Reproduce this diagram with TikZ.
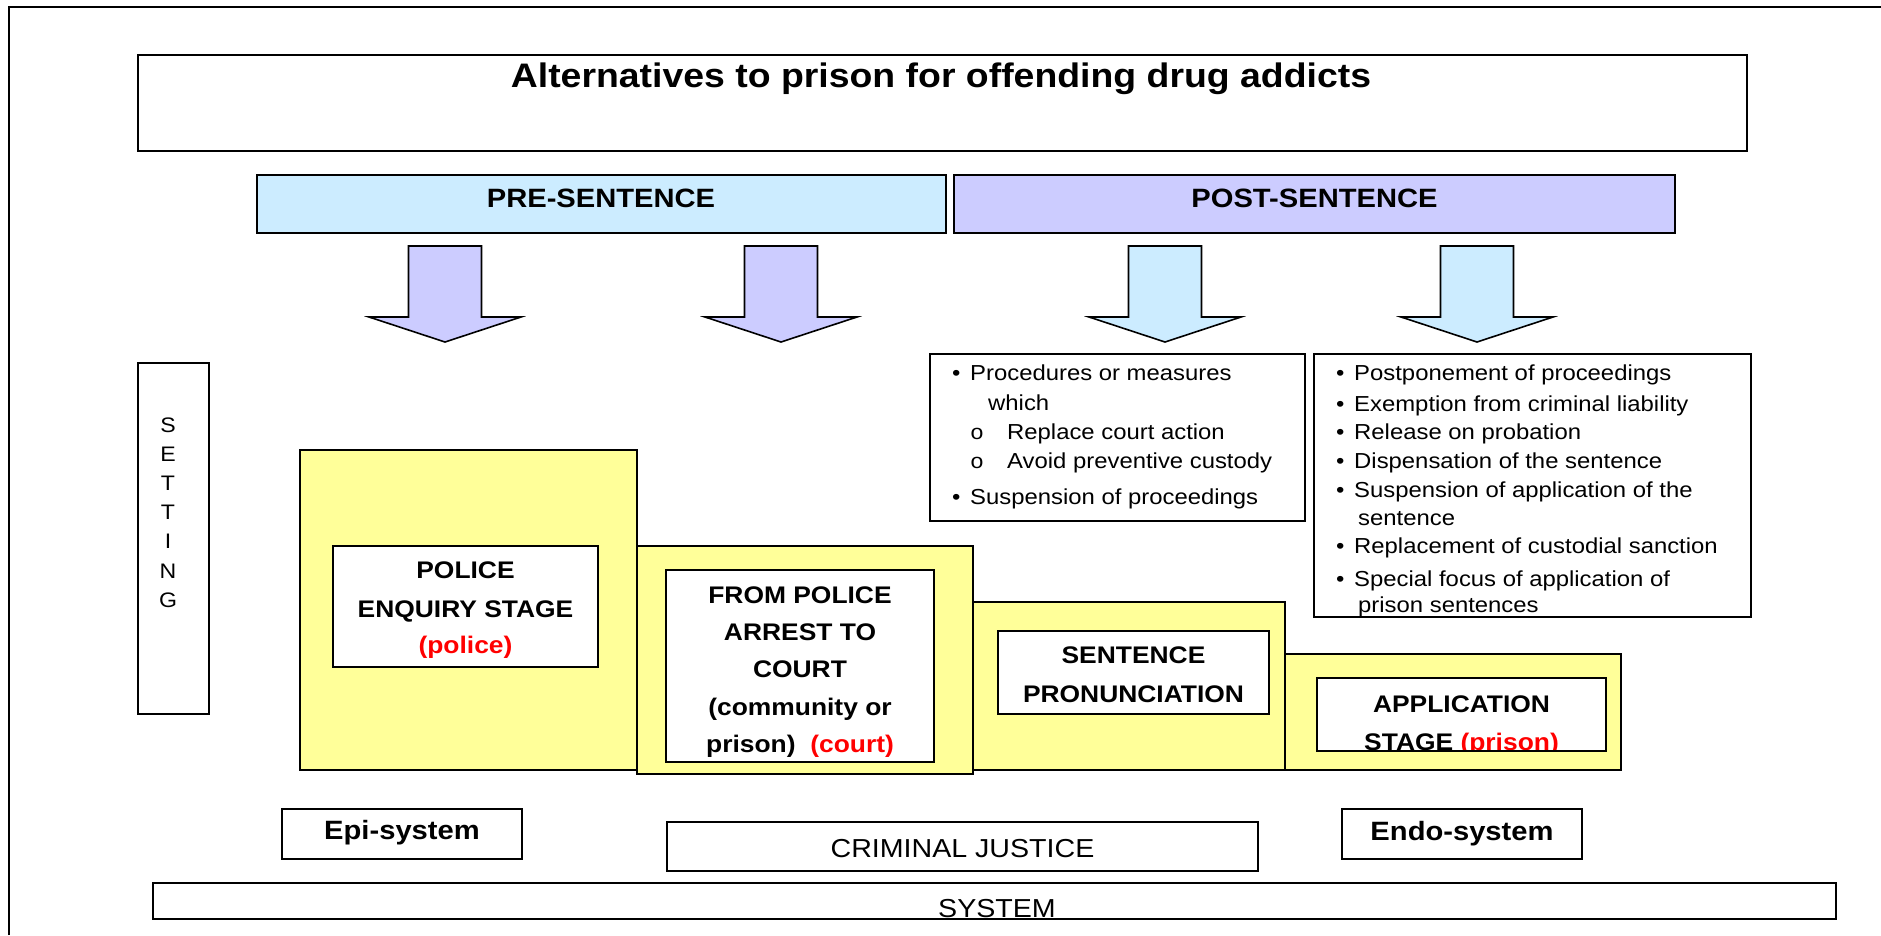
\documentclass[tikz,border=0pt]{standalone}
\usepackage{fontspec}
\setmainfont[FakeStretch=1.1]{Liberation Sans}
\newfontfamily\monofont[FakeStretch=1.1]{Liberation Mono}
\definecolor{preblue}{HTML}{CCECFF}
\definecolor{lav}{HTML}{CCCCFF}
\definecolor{yel}{HTML}{FFFF99}
\definecolor{redtxt}{HTML}{FF0000}
\tikzset{
  box/.style={draw=black, line width=2pt},
  ybox/.style={draw=black, line width=2pt, fill=yel},
  wbox/.style={draw=black, line width=2pt, fill=white},
  shape arrow/.style={draw=black, line width=1.6pt, line join=miter},
  txt/.style={inner sep=0pt, anchor=base},
  titletxt/.style={txt, font=\fontsize{34}{34}\selectfont\bfseries},
  bartxt/.style={txt, font=\fontsize{26.5}{26.5}\selectfont\bfseries},
  stagetxt/.style={txt, font=\fontsize{24}{24}\selectfont\bfseries},
  systxt/.style={txt, font=\fontsize{26}{26}\selectfont},
  bultxt/.style={inner sep=0pt, anchor=base west, font=\fontsize{21.7}{21.7}\selectfont},
  subbul/.style={inner sep=0pt, anchor=base west, font=\fontsize{21}{21}\selectfont\monofont},
  settxt/.style={txt, font=\fontsize{21}{21}\selectfont},
}
\newcommand{\rd}[1]{\textcolor{redtxt}{#1}}
\begin{document}
\begin{tikzpicture}[x=1pt,y=-1pt]
\useasboundingbox (0,0) rectangle (1881,935);
% outer frame
\draw[line width=1.5pt] (9,935) -- (9,7) -- (1881,7);

% title
\draw[box] (138,55) rectangle (1747,151);
\node[titletxt] (title) at (941,87) {Alternatives to prison for offending drug addicts};

% bars
\draw[box, fill=preblue] (257,175) rectangle (946,233);
\node[bartxt] (pre) at (601,207) {PRE-SENTENCE};
\draw[box, fill=lav] (954,175) rectangle (1675,233);
\node[bartxt] (post) at (1314.5,207) {POST-SENTENCE};

% block arrows
\foreach \c/\col in {445/lav, 781/lav, 1165/preblue, 1477/preblue}{
  \draw[shape arrow, fill=\col] ({\c-36.5},246) -- ({\c+36.5},246) -- ({\c+36.5},317)
    -- ({\c+76},317) -- (\c,342) -- ({\c-76},317) -- ({\c-36.5},317) -- cycle;
}

% left bullet box
\draw[box, fill=white] (930,354) rectangle (1305,521);
\node[bultxt] (lb1) at (952,380) {•};
\node[bultxt] (l1) at (970,380) {Procedures or measures};
\node[bultxt] (l1b) at (988,410) {which};
\node[subbul] (lo1) at (970,439) {o};
\node[bultxt] (l2) at (1007,439) {Replace court action};
\node[subbul] (lo2) at (970,468) {o};
\node[bultxt] (l3) at (1007,468) {Avoid preventive custody};
\node[bultxt] (lb4) at (952,504) {•};
\node[bultxt] (l4) at (970,504) {Suspension of proceedings};

% right bullet box
\fill[white] (1314,354) rectangle (1751,617);
\begin{scope}
  \clip (1314,354) rectangle (1751,616);
  \foreach \y/\t [count=\i] in {380/Postponement of proceedings, 411/Exemption from criminal liability, 439/Release on probation, 468/Dispensation of the sentence, 497/Suspension of application of the, 553/Replacement of custodial sanction, 586/Special focus of application of}{
    \node[bultxt] (rb\i) at (1336,\y) {•};
    \node[bultxt] (r\i) at (1354,\y) {\t};
  }
  \node[bultxt] (r5b) at (1358,525) {sentence};
  \node[bultxt] (r7b) at (1358,612) {prison sentences};
\end{scope}
\draw[box] (1314,354) rectangle (1751,617);

% SETTING
\draw[box] (138,363) rectangle (209,714);
\foreach \y/\l [count=\i] in {432/S, 461/E, 490/T, 519/T, 548/I, 578/N, 607/G}{
  \node[settxt] (set\i) at (168,\y) {\l};
}

% yellow stage blocks
\draw[ybox] (300,450) rectangle (637,770);
\draw[ybox] (973,602) rectangle (1285,770);
\draw[ybox] (1285,654) rectangle (1621,770);
\draw[ybox] (637,546) rectangle (973,774);

% inner boxes
\draw[wbox] (333,546) rectangle (598,667);
\node[stagetxt] (p1) at (465.5,578) {POLICE};
\node[stagetxt] (p2) at (465.5,617) {ENQUIRY STAGE};
\node[stagetxt] (p3) at (465.5,653) {\rd{(police)}};

\draw[wbox] (666,570) rectangle (934,762);
\node[stagetxt] (c1) at (800,603) {FROM POLICE};
\node[stagetxt] (c2) at (800,640) {ARREST TO};
\node[stagetxt] (c3) at (800,677) {COURT};
\node[stagetxt] (c4) at (800,715) {(community or};
\node[stagetxt] (c5) at (800,752) {prison)\ \ \rd{(court)}};

\draw[wbox] (998,631) rectangle (1269,714);
\node[stagetxt] (s1) at (1133.5,663) {SENTENCE};
\node[stagetxt] (s2) at (1133.5,702) {PRONUNCIATION};

\fill[white] (1317,678) rectangle (1606,751);
\begin{scope}
  \clip (1317,678) rectangle (1606,749);
  \node[stagetxt] (a1) at (1461.5,712) {APPLICATION};
  \node[stagetxt] (a2) at (1461.5,750) {STAGE \rd{(prison)}};
\end{scope}
\draw[box] (1317,678) rectangle (1606,751);

% bottom boxes
\draw[box] (282,809) rectangle (522,859);
\node[bartxt] (epi) at (402,839) {Epi-system};
\draw[box] (667,822) rectangle (1258,871);
\node[systxt] (cj) at (962.5,857) {CRIMINAL JUSTICE};
\draw[box] (1342,809) rectangle (1582,859);
\node[bartxt] (endo) at (1462,840) {Endo-system};
\draw[box] (153,883) rectangle (1836,919);
\node[systxt] (sys) at (997,917) {SYSTEM};
\end{tikzpicture}
\end{document}
